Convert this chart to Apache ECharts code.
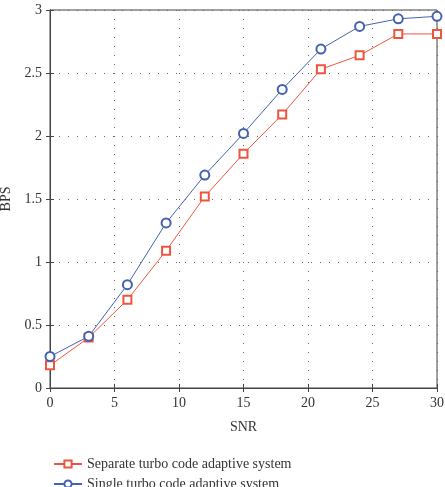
<!DOCTYPE html>
<html>
<head>
<meta charset="utf-8">
<script src="https://cdn.jsdelivr.net/npm/echarts@6/dist/echarts.min.js"></script>
<style>
  html, body { margin: 0; padding: 0; background: #fff; }
  #chart { width: 445px; height: 487px; }
</style>
</head>
<body>
<div id="chart"></div>
<script>
// SNR values on x axis
var snr = [0, 3, 6, 9, 12, 15, 18, 21, 24, 27, 30];
// BPS for each system
var separateBps = [0.18, 0.40, 0.70, 1.09, 1.52, 1.86, 2.17, 2.53, 2.64, 2.81, 2.81];
var singleBps = [0.25, 0.41, 0.82, 1.31, 1.69, 2.02, 2.37, 2.69, 2.87, 2.93, 2.95];
var seriesNames = ["Separate turbo code adaptive system", "Single turbo code adaptive system"];

var font = "Liberation Serif";
var axisColor = "#444";

function pairs(xs, ys) {
  return xs.map(function (x, i) { return [x, ys[i]]; });
}

// one legend per row so they stack like the original
function legendRow(name, top) {
  return {
    left: 48, top: top,
    itemWidth: 28, itemHeight: 9, itemGap: 8,
    textStyle: { fontFamily: font, fontSize: 14, color: "#333" },
    data: [name]
  };
}

var chart = echarts.init(document.getElementById("chart"));

var option = {
  animation: false,
  grid: {
    left: 50, top: 10, right: 8, bottom: 99,
    outerBoundsMode: "none",
    show: true, borderColor: axisColor, borderWidth: 1
  },
  legend: [legendRow(seriesNames[0], 452), legendRow(seriesNames[1], 472)],
  xAxis: [
    {
      type: "value", min: 0, max: 30, interval: 5,
      name: "SNR", nameLocation: "middle", nameGap: 32,
      nameTextStyle: { fontFamily: font, fontSize: 14, color: "#333" },
      axisLine: { lineStyle: { color: axisColor } },
      axisTick: { inside: true, length: 4, lineStyle: { color: axisColor } },
      axisLabel: { fontFamily: font, fontSize: 14, color: "#333", margin: 8 },
      splitLine: { show: true, lineStyle: { type: [1, 8], color: "#666" } }
    },
    {
      type: "value", min: 0, max: 30, interval: 5, position: "top",
      axisLine: { show: true, lineStyle: { color: axisColor } },
      axisTick: { inside: true, length: 4, lineStyle: { color: axisColor } },
      axisLabel: { show: false },
      splitLine: { show: false }
    }
  ],
  yAxis: [
    {
      type: "value", min: 0, max: 3, interval: 0.5,
      name: "BPS", nameLocation: "middle", nameGap: 35,
      nameTextStyle: { fontFamily: font, fontSize: 14, color: "#333" },
      axisLine: { show: true, lineStyle: { color: axisColor } },
      axisTick: { show: true, inside: true, length: 4, lineStyle: { color: axisColor } },
      axisLabel: { fontFamily: font, fontSize: 14, color: "#333", margin: 8 },
      splitLine: { show: true, lineStyle: { type: [1, 8], color: "#666" } }
    },
    {
      type: "value", min: 0, max: 3, interval: 0.5, position: "right",
      axisLine: { show: true, lineStyle: { color: axisColor } },
      axisTick: { show: true, inside: true, length: 4, lineStyle: { color: axisColor } },
      axisLabel: { show: false },
      splitLine: { show: false }
    }
  ],
  series: [
    {
      name: seriesNames[0],
      type: "line",
      data: pairs(snr, separateBps),
      symbol: "emptyRect", symbolSize: 8,
      color: "#ee5540",
      lineStyle: { width: 1 },
      itemStyle: { borderWidth: 1 }
    },
    {
      name: seriesNames[1],
      type: "line",
      data: pairs(snr, singleBps),
      symbol: "emptyCircle", symbolSize: 9,
      color: "#4462b0",
      lineStyle: { width: 1 },
      itemStyle: { borderWidth: 1 }
    }
  ]
};

chart.setOption(option);
</script>
</body>
</html>
